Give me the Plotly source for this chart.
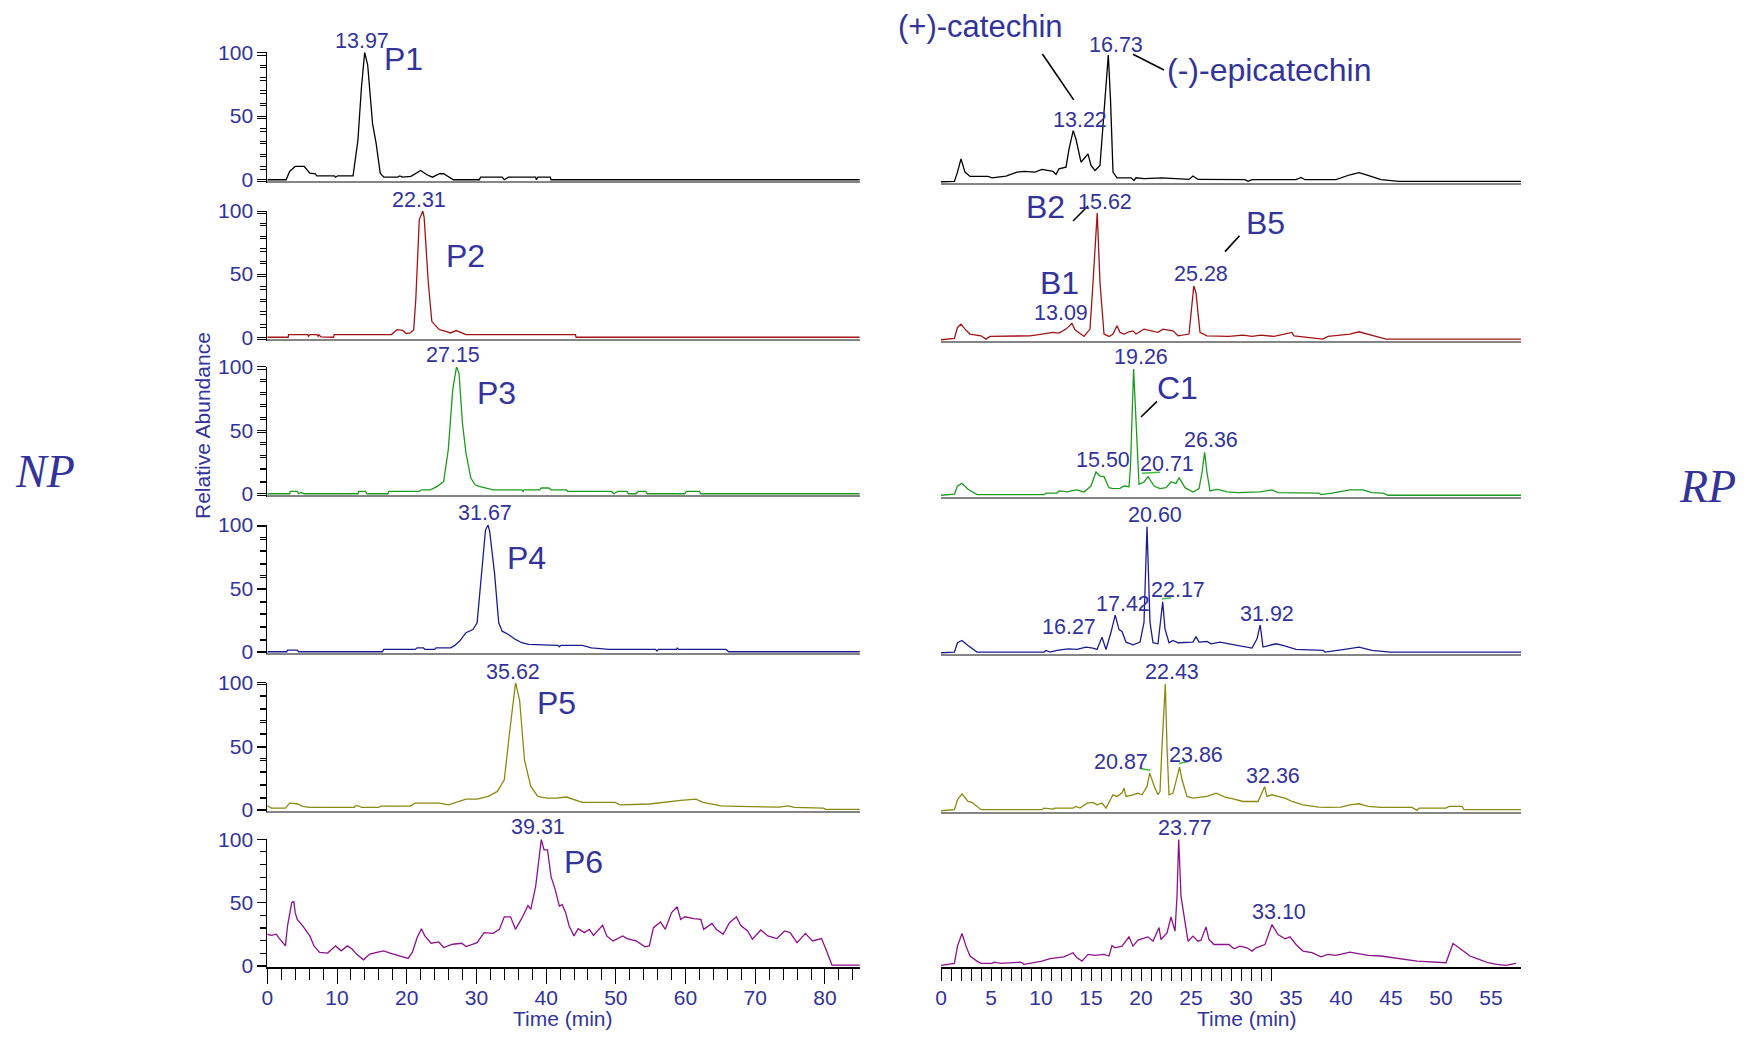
import plotly.graph_objects as go

# The page body has an 8 px default margin, so the figure is laid out in
# coordinates shifted by 8 px from the screenshot.
OFF = 8
W, H = 1744 - 2 * OFF, 1039 - 2 * OFF
TXT = "#33339a"
FONT = "Liberation Sans, Arial, sans-serif"

# ---------------- data: NP (normal phase) chromatograms ----------------
np1_t = [0, 2.7, 3.2, 4.0, 5.3, 6.1, 6.9, 7.1, 9.6, 9.8, 10.1, 12.3, 13.0, 13.5, 13.97, 14.4, 15.1, 15.6, 16.2, 16.7, 18.7, 19.0, 19.4, 20.6, 22.0, 22.9, 23.7, 24.7, 25.3, 26.0, 26.7, 30.4, 30.6, 33.7, 34.0, 34.6, 38.5, 38.6, 38.8, 40.6, 40.7, 85]
np1_y = [0, 0, 6.5, 10.4, 10.4, 5.2, 4.7, 3.1, 3.1, 2.0, 3.1, 3.1, 31, 72, 100, 90, 44, 29, 5.2, 2, 2, 3, 2, 2.6, 7.3, 3.9, 2, 4.7, 4.7, 2, 0, 0, 2, 2, 0, 2, 2, 0, 2, 2, 0, 0]

np2_t = [0, 3.0, 3.05, 5.8, 5.9, 6.1, 7.1, 7.3, 7.4, 7.7, 9.5, 9.6, 17.8, 18.6, 19.4, 19.9, 20.5, 21.0, 21.3, 21.8, 22.31, 22.5, 23.1, 23.6, 24.0, 24.7, 25.6, 26.3, 27.1, 27.9, 28.5, 44.2, 44.3, 85]
np2_y = [0, 0, 2.1, 2.1, 0.8, 2.1, 2.1, 0.8, 2.1, 0.3, 0, 2.1, 2.1, 6, 5.5, 2.9, 3.4, 6, 29.7, 93, 100, 95, 43, 12.6, 10, 6, 4.7, 3.4, 5.3, 3.4, 2.1, 2.1, 0, 0]

np3_t = [0, 3.2, 3.3, 4.3, 4.5, 4.8, 5.3, 13.0, 13.1, 14.1, 14.3, 17.3, 17.4, 21.8, 22.1, 23.4, 24.4, 25.3, 25.96, 26.6, 27.15, 27.5, 28.0, 28.5, 29.2, 29.8, 30.4, 31.4, 32.4, 36.5, 36.7, 36.8, 39.1, 39.3, 40.4, 40.7, 42.9, 43.1, 49.4, 49.7, 50.3, 51.6, 51.8, 52.9, 53.2, 54.3, 54.5, 59.9, 60.1, 62.0, 62.2, 85]
np3_y = [0, 0, 1.8, 1.8, 0, 1.0, 0, 0, 1.8, 1.8, 0, 0, 1.8, 1.8, 3.1, 3.1, 5.8, 9.7, 34.6, 81.7, 100, 95, 55.5, 32, 12.3, 7, 5.8, 4.5, 3.1, 3.1, 1.8, 3.1, 3.1, 4.5, 4.5, 3.1, 3.1, 1.8, 1.8, 0, 1.8, 1.8, 0, 0, 1.8, 1.8, 0, 0, 1.8, 1.8, 0, 0]

np4_t = [0, 2.8, 2.9, 4.3, 4.5, 16.5, 16.7, 21.2, 21.5, 22.4, 22.6, 24.0, 24.2, 26.3, 26.9, 27.6, 28.5, 29.5, 30.1, 30.8, 31.3, 31.67, 31.9, 32.6, 33.2, 33.7, 34.6, 35.6, 36.5, 37.5, 41.7, 41.9, 42.1, 45.2, 46.5, 49.0, 55.7, 55.9, 56.1, 58.7, 58.8, 59.0, 65.8, 66.2, 85]
np4_y = [0, 0, 1.3, 1.3, 0, 0, 1.8, 1.8, 3.1, 3.1, 1.8, 1.8, 3.1, 3.1, 5, 8.4, 15, 17.5, 22.8, 62, 96, 100, 95, 62, 22.8, 16.2, 13.6, 9.7, 7.1, 5.8, 5, 3.9, 5, 5, 3.1, 1.8, 1.8, 0.5, 1.8, 1.8, 2.9, 1.8, 1.8, 0, 0]

np5_t = [0, 0.6, 2.6, 3.2, 4.3, 5.1, 6.1, 12.5, 12.6, 13.1, 13.5, 16.0, 16.3, 20.5, 21.2, 24.7, 26.0, 27.6, 28.5, 30.1, 31.7, 33.0, 34.0, 34.8, 35.62, 36.2, 36.9, 37.8, 38.8, 40.1, 41.5, 42.9, 44.2, 45.2, 49.9, 50.6, 54.8, 56.7, 59.3, 61.5, 62.5, 65.1, 67.6, 73.4, 74.7, 75.6, 79.8, 80.1, 85]
np5_y = [3.1, 1.3, 1.3, 5.2, 4.7, 2.6, 1.8, 1.8, 3.1, 3.1, 1.8, 1.8, 2.9, 2.9, 5.2, 5.2, 3.9, 6.5, 8.4, 8.4, 10.5, 14.4, 23.6, 62.8, 100, 86, 39, 18.3, 10.5, 9.2, 9.2, 10, 7.3, 5.8, 5.8, 3.9, 4.5, 5.8, 7.3, 8.4, 5.8, 3.1, 2.6, 2.1, 3.1, 1.8, 1.3, 0.3, 0.3]

np6_t = [0, 0.6, 1.3, 1.6, 2.6, 2.9, 3.5, 3.8, 4.0, 4.3, 5.1, 6.1, 6.7, 7.5, 8.65, 9.8, 10.6, 11.5, 12.2, 12.8, 13.8, 14.7, 15.7, 16.7, 17.6, 18.9, 20.2, 20.8, 21.5, 22.1, 22.6, 23.5, 24.6, 25.3, 26.6, 27.9, 28.5, 30.1, 31.1, 32.4, 33.3, 34.0, 34.9, 35.6, 36.5, 37.4, 37.8, 38.5, 39.31, 39.7, 40.2, 40.7, 41.3, 41.9, 42.3, 42.8, 43.3, 44.0, 44.6, 45.5, 46.2, 46.8, 48.1, 48.7, 49.6, 51.0, 51.6, 52.9, 54.2, 54.8, 55.4, 56.4, 57.1, 58.0, 58.8, 59.3, 59.9, 61.2, 62.2, 62.6, 63.8, 64.4, 65.4, 66.3, 67.3, 67.9, 68.9, 69.6, 70.8, 71.8, 73.1, 74.2, 75.0, 76.0, 77.2, 78.2, 79.5, 80.1, 81.0, 85]
np6_y = [24.9, 24, 25, 22.5, 15.7, 31.4, 49.7, 51, 42, 36.6, 31.4, 23.6, 15.7, 10.5, 10, 15.7, 11.8, 15.7, 13, 9.2, 4.7, 9.2, 10.5, 11.8, 10, 7.9, 5.8, 10.5, 22.3, 29.3, 23.6, 17.8, 18.8, 14.4, 17, 17.8, 15.2, 18.3, 26.2, 25.6, 28.8, 38.7, 38.7, 28.8, 37.4, 47.6, 44.5, 62.8, 100, 91.6, 91.6, 70.7, 60.2, 47, 48.4, 42, 31.4, 23.6, 29.3, 26.2, 28.8, 24, 32, 23.6, 19.6, 23.6, 21.5, 19.6, 14.9, 15.7, 30.1, 34.6, 28.8, 42, 46.6, 36.6, 38.7, 37.2, 36.6, 28.8, 33.5, 28.8, 24.9, 34, 38.7, 32, 27.5, 21, 28.3, 23.6, 21.5, 27.5, 26.2, 18.3, 25.6, 19.6, 21.5, 13.6, 0.5, 0.5]

# ---------------- data: RP (reversed phase) chromatograms ----------------
rp1_t = [0, 1.34, 1.65, 2.0, 2.4, 2.9, 4.7, 5.1, 6.5, 7.6, 8.3, 9.4, 10.1, 11.2, 11.5, 11.8, 12.5, 12.8, 13.22, 13.5, 14.0, 14.7, 15.0, 15.4, 15.9, 16.3, 16.73, 16.95, 17.2, 17.6, 19.0, 19.3, 19.5, 20.3, 22.1, 24.8, 25.2, 25.7, 30.4, 30.7, 31.1, 35.5, 36.0, 36.4, 39.5, 40.9, 41.8, 42.7, 44.0, 45.8, 58]
rp1_y = [0, 0.3, 7.6, 18, 7.6, 4.2, 4.2, 3.1, 4.5, 7.6, 8.1, 7.6, 9.7, 8.1, 5.8, 10.2, 11.5, 25.7, 40.3, 33.5, 15.4, 22, 12.8, 8.9, 12.8, 52, 100, 65, 7.6, 3.1, 3.1, 1, 3.1, 2.4, 3.1, 1.8, 4.5, 1.8, 1.6, 0.3, 1.6, 1.6, 3.4, 1.6, 1.6, 5.5, 7.1, 5, 1.6, 0.3, 0.3]

rp2_t = [0, 1.34, 1.65, 2.0, 2.4, 2.9, 4.0, 4.5, 4.9, 8.9, 10.1, 11.2, 11.8, 12.5, 13.09, 13.4, 14.3, 14.9, 15.2, 15.62, 15.9, 16.3, 16.8, 17.2, 17.6, 17.9, 18.3, 18.8, 19.2, 19.5, 20.3, 21.0, 21.7, 22.2, 23.2, 23.7, 24.8, 25.28, 25.5, 25.9, 26.6, 28.8, 30.2, 31.1, 32.0, 33.3, 35.1, 35.3, 38.2, 38.7, 40.9, 41.8, 42.9, 44.5, 58]
rp2_y = [0, 1, 9.7, 12.3, 8.4, 4.5, 3.1, 0.5, 2.6, 3.1, 4.5, 5.8, 5.2, 8.4, 13, 7.9, 2.6, 8.4, 45, 100, 45, 4.5, 2.6, 4.5, 11, 5.8, 4.5, 6.3, 7, 4.5, 8.4, 7, 5.8, 8.4, 7, 3.1, 4.5, 42.4, 37, 5.8, 3.1, 2.6, 3.7, 2.6, 3.7, 2.6, 5.8, 3.1, 0.5, 2.6, 4.5, 6.3, 3.7, 0.5, 0.5]

rp3_t = [0, 1.34, 1.65, 2.1, 2.7, 3.6, 10.3, 10.5, 11.6, 11.8, 12.7, 13.0, 13.6, 14.3, 15.0, 15.5, 15.9, 16.3, 16.8, 17.2, 17.9, 18.3, 18.8, 18.95, 19.26, 19.45, 19.8, 20.3, 20.71, 21.3, 21.9, 22.5, 23.0, 23.5, 23.8, 24.4, 25.2, 25.8, 26.1, 26.36, 26.6, 26.9, 27.5, 27.9, 28.6, 29.7, 31.9, 33.1, 33.7, 37.8, 38.0, 39.1, 40.9, 42.2, 43.1, 44.2, 44.7, 58]
rp3_y = [0, 0.8, 7.3, 9.4, 4.7, 0.5, 0.5, 1.6, 1.6, 3.4, 2.6, 3.4, 4.2, 2.6, 7.3, 18.4, 15.2, 14.7, 6, 5.2, 5.5, 7.3, 6.8, 23, 100, 70, 8.7, 10.5, 14.7, 7.3, 5.2, 6, 10.5, 9.4, 13.9, 6, 2.6, 5.2, 17.8, 34, 17.8, 3.4, 4.7, 4.2, 2.6, 2.1, 2.6, 4.2, 2.1, 1.6, 0.5, 1.6, 4.2, 4.2, 2.1, 1.6, 0, 0]

rp4_t = [0, 1.34, 1.65, 2.1, 2.7, 3.6, 10.3, 10.5, 10.9, 11.6, 12.7, 13.6, 14.5, 15.2, 15.6, 16.1, 16.5, 17.0, 17.42, 17.8, 18.1, 18.5, 19.2, 19.9, 20.3, 20.6, 20.9, 21.2, 21.7, 22.17, 22.4, 22.8, 23.2, 23.7, 25.2, 25.5, 25.8, 26.6, 27.0, 27.9, 28.8, 29.7, 31.1, 31.6, 31.92, 32.2, 32.8, 33.5, 34.2, 35.5, 38.2, 38.4, 40.7, 41.8, 43.1, 44.9, 58]
rp4_y = [0, 0.5, 7.9, 9.7, 5.8, 0.5, 0.5, 1.8, 0.5, 1.8, 3.1, 2.6, 4.5, 3.7, 2.6, 12.3, 2.6, 16.2, 29.8, 18.3, 16.8, 8.4, 6.3, 8.4, 24, 100, 24, 7.9, 7.1, 40.3, 18.8, 7.9, 9.7, 7.9, 8.4, 12.8, 8.4, 8.9, 7.1, 8.4, 7.1, 5.8, 3.7, 11, 22, 4.5, 5.8, 7.1, 5.8, 2.6, 1.8, 0.5, 3.1, 4.5, 1.8, 0.5, 0.5]

rp5_t = [0, 1.34, 1.65, 2.1, 2.7, 3.1, 4.0, 10.1, 10.3, 11.2, 11.4, 13.2, 13.5, 13.9, 14.6, 15.2, 15.6, 16.1, 16.5, 17.2, 17.6, 18.1, 18.3, 18.5, 19.2, 19.7, 20.1, 20.6, 20.87, 21.3, 21.7, 21.9, 22.1, 22.43, 22.6, 22.8, 23.2, 23.86, 24.1, 24.6, 25.2, 26.6, 27.5, 28.4, 29.3, 30.2, 31.7, 32.36, 32.6, 33.1, 33.7, 34.4, 35.1, 36.2, 37.8, 38.7, 40.0, 40.9, 41.8, 42.7, 44.0, 47.1, 47.6, 47.8, 50.5, 50.8, 52.1, 52.3, 58]
rp5_y = [0, 0.8, 8.7, 13.4, 7.3, 6.6, 0.8, 0.8, 2.1, 1.3, 2.1, 2.1, 3.4, 2.1, 6, 6.6, 4.7, 6, 2.1, 12.6, 11.3, 13.9, 17.8, 11.3, 12.6, 13.9, 12.6, 19, 29.7, 19.7, 12.6, 15.2, 50.7, 100, 50.7, 12.6, 13.9, 34.4, 24.4, 11.3, 10, 11.3, 13.9, 10.7, 9.2, 7.3, 7.3, 19, 11.3, 12.6, 11.3, 10, 7.3, 4.7, 2.9, 2.6, 2.9, 4.7, 5.5, 3.4, 2.6, 2.6, 0.3, 2.1, 2.1, 3.4, 3.4, 0.8, 0.8]

rp6_t = [0, 0.67, 1.34, 1.65, 2.1, 2.5, 2.9, 3.6, 4.0, 5.1, 5.3, 6.0, 6.9, 8.0, 8.3, 10.1, 10.9, 12.3, 13.2, 13.6, 14.1, 14.7, 15.4, 16.3, 16.8, 17.1, 17.4, 18.1, 18.8, 19.2, 19.7, 20.1, 20.7, 21.2, 21.8, 22.0, 22.6, 23.0, 23.4, 23.6, 23.77, 24.0, 24.4, 24.7, 25.2, 25.7, 26.0, 26.5, 26.8, 27.3, 27.9, 28.8, 29.3, 29.9, 30.6, 31.1, 31.5, 32.4, 33.1, 33.7, 34.4, 34.9, 35.5, 36.2, 37.1, 38.0, 38.7, 39.5, 40.9, 41.8, 42.7, 44.0, 45.4, 46.7, 47.6, 50.5, 50.7, 51.2, 51.8, 52.9, 53.8, 54.7, 55.6, 56.5, 57.5]
rp6_y = [0.5, 1.3, 2.1, 15.7, 25.7, 15.7, 7.9, 3.9, 2.1, 2.1, 3.1, 2.1, 2.6, 3.1, 1.3, 3.9, 5.8, 7.3, 10.5, 6.5, 3.9, 9.2, 8.4, 9.2, 7.9, 16.2, 14.4, 15.7, 23, 15.7, 20.4, 21.5, 23, 19.6, 30.4, 20.9, 26.2, 38.7, 27.5, 55, 100, 55, 34, 19.6, 23.6, 19.6, 20.4, 30.9, 20.9, 17, 17, 17, 13.6, 15.7, 14.4, 11.8, 14.4, 17, 32.7, 24.9, 21.5, 23, 17, 11.8, 10.5, 7.3, 9.2, 8.4, 11, 9.9, 8.4, 7.9, 6.5, 5.2, 3.9, 2.6, 6.5, 17.8, 14.4, 7.9, 5.2, 2.6, 1.3, 0.5, 2.1]

np_series = [(np1_t, np1_y), (np2_t, np2_y), (np3_t, np3_y), (np4_t, np4_y), (np5_t, np5_y), (np6_t, np6_y)]
rp_series = [(rp1_t, rp1_y), (rp2_t, rp2_y), (rp3_t, rp3_y), (rp4_t, rp4_y), (rp5_t, rp5_y), (rp6_t, rp6_y)]
mz_labels = ["289.1", "577.1", "865.1", "1153.1", "1441.0", "1729.1"]
np_peak_names = ["P1", "P2", "P3", "P4", "P5", "P6"]
np_peak_rt = ["13.97", "22.31", "27.15", "31.67", "35.62", "39.31"]

# ---------------- styles / layout geometry (screenshot pixels) ----------------
colors = ["#000000", "#a01515", "#1e9a1e", "#1c1c8f", "#8a8a12", "#8c128c"]
L_px = [267.3, 859.8]
R_px = [941, 1521]
L_top = [52.3, 211, 366.7, 525, 682.7, 839.3]
L_bot = [181, 338.5, 495, 653, 811, 967]
R_top = [55, 213, 369, 526.5, 684, 839.3]
R_bot = [183, 341, 496.5, 654, 812, 967.3]
NP_RANGE = [0, 85]
RP_RANGE = [0, 58]
Y_RANGE = [-1, 100]


def px_x(X):
    return (X - OFF) / W


def px_y(Y):
    return 1 - (Y - OFF) / H


L_dom = [px_x(L_px[0]), px_x(L_px[1])]
R_dom = [px_x(R_px[0]), px_x(R_px[1])]

fig = go.Figure()
layout = dict(width=W, height=H, autosize=False, template="none",
              margin=dict(l=0, r=0, t=0, b=0, pad=0), showlegend=False,
              paper_bgcolor="white", plot_bgcolor="white",
              font=dict(family=FONT, color=TXT))


def axname(n, kind):
    return kind if n == 1 else f"{kind}{n}"


def yaxis_cfg(dom, labels):
    return dict(domain=dom, range=Y_RANGE, showgrid=False, zeroline=False,
                showline=True, linecolor="black", linewidth=1,
                tickmode="linear", tick0=0, dtick=50, ticks="outside",
                ticklen=9, tickcolor="black", tickwidth=1,
                showticklabels=labels, tickfont=dict(size=21, color=TXT, family=FONT),
                minor=dict(tickmode="linear", dtick=10, tick0=0, ticks="outside",
                           ticklen=6, tickcolor="black", tickwidth=1),
                fixedrange=True, automargin=False)


for side in range(2):
    for i in range(6):
        n = i + 1 + 6 * side
        xk, yk = axname(n, "x"), axname(n, "y")
        top = (L_top if side == 0 else R_top)[i]
        bot = (L_bot if side == 0 else R_bot)[i]
        ydom = [px_y(bot), px_y(top)]
        xdom = L_dom if side == 0 else R_dom
        rng = NP_RANGE if side == 0 else RP_RANGE
        t, y = (np_series if side == 0 else rp_series)[i]
        fig.add_trace(go.Scatter(x=t, y=y, mode="lines", xaxis=xk, yaxis=yk,
                                 line=dict(color=colors[i], width=1.3),
                                 hoverinfo="skip"))
        xa = dict(domain=xdom, range=rng, anchor=yk, showgrid=False, zeroline=False,
                  fixedrange=True, automargin=False)
        if i < 5:
            xa.update(showline=True, linecolor="#858585", linewidth=2.2,
                      ticks="", showticklabels=False)
        else:
            xa.update(showline=True, linecolor="black", linewidth=1.5,
                      tickcolor="black", tickwidth=1, ticks="outside")
            if side == 0:
                xa.update(tickmode="linear", tick0=0, dtick=10, ticklen=15,
                          showticklabels=True,
                          tickfont=dict(size=21, color=TXT, family=FONT),
                          minor=dict(tickmode="linear", dtick=2, tick0=0,
                                     ticks="outside", ticklen=11,
                                     tickcolor="black", tickwidth=1))
            else:
                xa.update(tickmode="array", tickvals=list(range(0, 34)),
                          ticktext=[""] * 34, ticklen=12, showticklabels=True)
        layout["xaxis" if n == 1 else f"xaxis{n}"] = xa
        layout["yaxis" if n == 1 else f"yaxis{n}"] = yaxis_cfg(ydom, side == 0)

# overlay axis carrying the RP time labels
fig.add_trace(go.Scatter(x=[], y=[], xaxis="x13", yaxis="y12", mode="lines",
                         hoverinfo="skip"))
layout["xaxis13"] = dict(overlaying="x12", anchor="y12", range=RP_RANGE,
                         showgrid=False, zeroline=False, showline=False,
                         tickmode="array", tickvals=list(range(0, 56, 5)),
                         ticks="outside", ticklen=15, tickcolor="rgba(0,0,0,0)",
                         tickfont=dict(size=21, color=TXT, family=FONT),
                         fixedrange=True, automargin=False)


def ydomv(v):
    """value on the 0-100 abundance scale -> fraction of the panel's y domain"""
    return (v - Y_RANGE[0]) / (Y_RANGE[1] - Y_RANGE[0])


annotations = []


def lab(n, x, v, text, size=21.5, xanchor="center"):
    annotations.append(dict(xref=axname(n, "x"), yref=axname(n, "y") + " domain",
                            x=x, y=ydomv(v), text=text, showarrow=False,
                            xanchor=xanchor, yanchor="middle", borderpad=0,
                            font=dict(size=size, color=TXT, family=FONT)))


BIG = 32
# NP peak labels
np_rt_pos = [(13.65, 109), (21.8, 108.7), (26.7, 109.2), (31.3, 109.7), (35.3, 108.6), (38.8, 109.9)]
np_name_pos = [(19.5, 94.5), (28.5, 64.5), (32.9, 79.6), (37.2, 73.8), (41.5, 84.3), (45.4, 82.4)]
for i in range(6):
    lab(i + 1, np_rt_pos[i][0], np_rt_pos[i][1], np_peak_rt[i])
    lab(i + 1, np_name_pos[i][0], np_name_pos[i][1], np_peak_names[i], BIG)

# RP peak labels
rp_labels = [
    (7, 3.9, 122.4, "(+)-catechin", 31), (7, 32.8, 88.2, "(-)-epicatechin", BIG),
    (7, 17.5, 107.9, "16.73", 21.5), (7, 13.9, 48.8, "13.22", 21.5),
    (8, 10.4, 104.5, "B2", BIG), (8, 16.4, 108.9, "15.62", 21.5),
    (8, 32.4, 92.4, "B5", BIG), (8, 11.8, 45.1, "B1", BIG),
    (8, 12.0, 21.0, "13.09", 21.5), (8, 26.0, 52.0, "25.28", 21.5),
    (9, 20.0, 109.2, "19.26", 21.5), (9, 23.6, 85.3, "C1", BIG),
    (9, 16.2, 28.3, "15.50", 21.5), (9, 22.6, 24.4, "20.71", 21.5),
    (9, 27.0, 44.1, "26.36", 21.5),
    (10, 21.4, 109.0, "20.60", 21.5), (10, 23.7, 49.4, "22.17", 21.5),
    (10, 18.2, 39.0, "17.42", 21.5), (10, 12.8, 20.6, "16.27", 21.5),
    (10, 32.6, 30.3, "31.92", 21.5),
    (11, 23.1, 109.7, "22.43", 21.5), (11, 18.0, 38.8, "20.87", 21.5),
    (11, 25.5, 44.1, "23.86", 21.5), (11, 33.15, 27.6, "32.36", 21.5),
    (12, 24.35, 109.1, "23.77", 21.5), (12, 33.8, 43.0, "33.10", 21.5),
]
for n, x, v, text, size in rp_labels:
    lab(n, x, v, text, size)

mz_y = [91.3, 91.9, 89.2, 91.5, 91.3, 92.1]
for i in range(6):
    lab(7 + i, 58.1, mz_y[i], f"<i>m/z</i> {mz_labels[i]}", 20.5, xanchor="right")

# paper-level texts
for X, Y, text, size, extra in [
    (563, 1018, "Time (min)", 21, {}),
    (1247, 1018, "Time (min)", 21, {}),
    (202, 426, "Relative Abundance", 21, {"textangle": -90}),
]:
    d = dict(xref="paper", yref="paper", x=px_x(X), y=px_y(Y), text=text,
             showarrow=False, xanchor="center", yanchor="middle", borderpad=0,
             font=dict(size=size, color=TXT, family=FONT))
    d.update(extra)
    annotations.append(d)

for X, Y, text in [(45, 471, "NP"), (1707, 486, "RP")]:
    annotations.append(dict(xref="paper", yref="paper", x=px_x(X), y=px_y(Y),
                            text=f"<i>{text}</i>", showarrow=False,
                            xanchor="center", yanchor="middle",
                            font=dict(size=46, color=TXT,
                                      family="Liberation Serif, DejaVu Serif, serif")))

layout["annotations"] = annotations

# leader lines (in panel-domain coordinates so they are not clipped)
shapes = []
for n, t0, v0, t1, v1, col in [
    (7, 10.14, 100.8, 13.27, 64.6, "black"),
    (7, 19.2, 100.6, 22.3, 88.2, "black"),
    (8, 13.2, 93.7, 14.7, 105.5, "black"),
    (8, 28.4, 69.5, 29.85, 82.1, "black"),
    (9, 20.0, 62.0, 21.6, 74.3, "black"),
    (9, 20.1, 17.4, 21.9, 18.2, "#40c040"),
    (10, 22.1, 42.6, 23.0, 43.6, "#40c040"),
    (11, 20.0, 33.2, 20.9, 31.9, "#40c040"),
    (11, 23.8, 37.2, 24.8, 39.0, "#40c040"),
]:
    rmax = RP_RANGE[1]
    shapes.append(dict(type="line", xref=axname(n, "x") + " domain",
                       yref=axname(n, "y") + " domain",
                       x0=t0 / rmax, y0=ydomv(v0), x1=t1 / rmax, y1=ydomv(v1),
                       line=dict(color=col, width=1.6)))
layout["shapes"] = shapes

fig.update_layout(**layout)

# pull the bottom time-axis labels slightly closer to the ticks
for ax in ("xaxis6", "xaxis13"):
    try:
        fig.layout[ax].ticklabelstandoff = -4
    except (ValueError, AttributeError):
        pass

fig.write_html("out.html")
